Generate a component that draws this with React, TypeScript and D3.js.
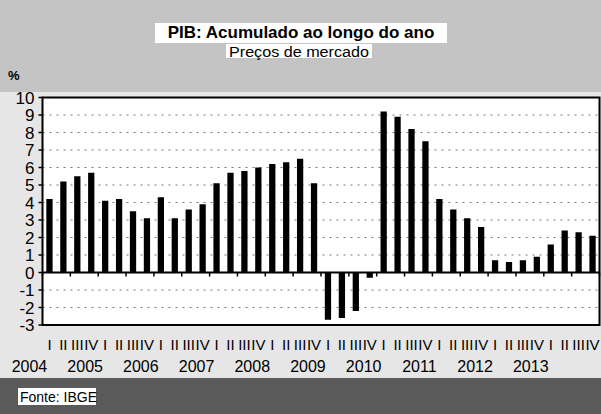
import React from "react";
import * as d3 from "d3";

const years = ["2004", "2005", "2006", "2007", "2008", "2009", "2010", "2011", "2012", "2013"];
const quarterLabels = ["I", "II", "III", "IV"];
const values = [
  4.2, 5.2, 5.5, 5.7,
  4.1, 4.2, 3.5, 3.1,
  4.3, 3.1, 3.6, 3.9,
  5.1, 5.7, 5.8, 6.0,
  6.2, 6.3, 6.5, 5.1,
  -2.7, -2.6, -2.2, -0.3,
  9.2, 8.9, 8.2, 7.5,
  4.2, 3.6, 3.1, 2.6,
  0.7, 0.6, 0.7, 0.9,
  1.6, 2.4, 2.3, 2.1,
];
const yTicks = [10, 9, 8, 7, 6, 5, 4, 3, 2, 1, 0, -1, -2, -3];
const title = "PIB: Acumulado ao longo do ano";
const subtitle = "Preços de mercado";
const source = "Fonte: IBGE";

const W = 601;
const H = 414;
const L = 42.5;
const R = 599.5;
const T = 97.5;
const B = 325;
const FONT = "'Liberation Sans', Arial, sans-serif";

export default function App() {
  const idx = values.map((_, i) => i);
  const x = d3.scaleBand<number>().domain(idx).range([L, R]).paddingInner(0.55).paddingOuter(0.275);
  const y = d3.scaleLinear().domain([-3, 10]).range([B, T]);
  const step = x.step();
  const bw = x.bandwidth();
  const y0 = y(0);

  return (
    <svg width={W} height={H} style={{ position: "absolute", left: 0, top: 0 }} fontFamily={FONT}>
      {/* scanned-paper tones */}
      <rect x={0} y={0} width={W} height={H} fill="#e6e6e6" />
      <rect x={0} y={0} width={W} height={92} fill="#c4c4c4" />
      <rect x={0} y={378} width={W} height={H - 378} fill="#5a5a5a" />
      <rect x={L} y={T} width={R - L} height={B - T} fill="#fff" />

      {/* title */}
      <rect x={155} y={23} width={292} height={20} fill="#fff" />
      <rect x={226} y={44} width={146} height={14} fill="#fff" />
      <text x={301} y={38} textAnchor="middle" fontSize={17}>
        <tspan fontWeight="bold">{title}</tspan>
      </text>
      <text x={299} y={57} textAnchor="middle" fontSize={14} textLength={140} lengthAdjust="spacingAndGlyphs">{subtitle}</text>
      <text x={8} y={80} fontSize={13} fontWeight="bold">%</text>

      {/* gridlines */}
      {yTicks.filter((t) => t !== 0 && t !== 10 && t !== -3).map((t) => (
        <line key={"g" + t} x1={L} x2={R} y1={y(t)} y2={y(t)} stroke="#777" strokeWidth={1} strokeDasharray="2 5" />
      ))}

      {/* bars */}
      {values.map((v, i) => (
        <rect key={"b" + i} x={x(i)} width={bw} y={Math.min(y(v), y0)} height={Math.abs(y(v) - y0)} fill="#000" />
      ))}

      {/* zero line and ticks */}
      <line x1={L} x2={R} y1={y0} y2={y0} stroke="#000" strokeWidth={2} />
      {d3.range(0, values.length + 1, 2).map((k) => (
        <line key={"xt" + k} x1={L + k * step} x2={L + k * step} y1={y0} y2={y0 + 4} stroke="#000" strokeWidth={1.5} />
      ))}

      {/* frame */}
      <rect x={L} y={T} width={R - L} height={B - T} fill="none" stroke="#000" strokeWidth={2} />

      {/* y axis ticks and labels */}
      {yTicks.map((t) => (
        <g key={"y" + t}>
          <line x1={L - 4} x2={L} y1={y(t)} y2={y(t)} stroke="#000" strokeWidth={1.5} />
          <text x={L - 8} y={y(t)} dy="0.36em" textAnchor="end" fontSize={17}>{t}</text>
        </g>
      ))}

      {/* quarter labels */}
      {values.map((_, i) => (
        <text key={"q" + i} x={(x(i) as number) + bw / 2} y={350} textAnchor="middle" fontSize={15}>
          {quarterLabels[i % 4]}
        </text>
      ))}

      {/* year labels */}
      {years.map((yr, j) => (
        <text key={"yr" + yr} x={(x(j * 4) as number) + bw / 2 - 20} y={372} textAnchor="middle" fontSize={16}>
          {yr}
        </text>
      ))}

      {/* source */}
      <rect x={18} y={388} width={78} height={17} fill="#fff" />
      <text x={20} y={402} fontSize={14}>{source}</text>
    </svg>
  );
}
